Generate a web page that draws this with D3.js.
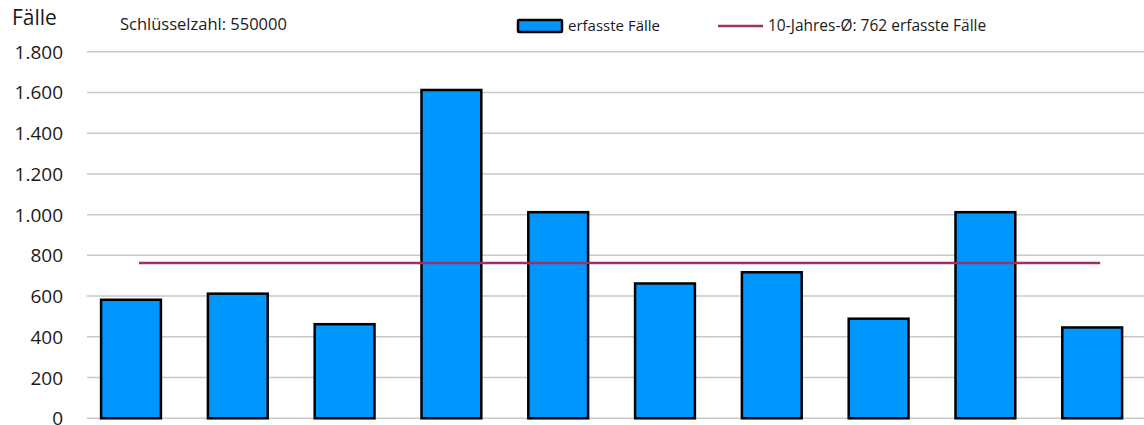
<!DOCTYPE html>
<html><head><meta charset="utf-8">
<script src="https://cdn.jsdelivr.net/npm/d3@7"></script>
<style>body{margin:0;background:#fff}svg{display:block;font-family:"Open Sans",sans-serif}</style>
</head><body>
<svg id="c" width="1144" height="425"></svg>
<script>
const categories = ["1","2","3","4","5","6","7","8","9","10"];
const values = [582, 612, 462, 1612, 1012, 662, 717, 489, 1012, 446];
const average = 762;
const yTicks = [0,200,400,600,800,1000,1200,1400,1600,1800];
const seriesName = "erfasste Fälle";
const averageLabel = "10-Jahres-Ø: 762 erfasste Fälle";

const svg = d3.select("#c");
const x = d3.scaleBand().domain(categories).range([77.6, 1145.6]).paddingInner(0.44).paddingOuter(0.22);
const y = d3.scaleLinear().domain([0,1800]).range([418.3, 51.7]);
const fmt = d3.formatLocale({decimal:",", thousands:".", grouping:[3], currency:["","€"]}).format(",d");

// gridlines
svg.append("g").selectAll("line").data(yTicks).join("line")
  .attr("x1",87).attr("x2",1144).attr("y1",d=>y(d)).attr("y2",d=>y(d))
  .attr("stroke","#c9c9c9").attr("stroke-width",1.5);

// y labels
const yAxis = d3.axisLeft(y).tickValues(yTicks).tickFormat(fmt).tickSize(0).tickPadding(0);
const ga = svg.append("g").attr("transform","translate(63,0)").call(yAxis);
ga.select(".domain").remove();
ga.selectAll("text").attr("font-size",19).attr("fill","#1a1a1a").attr("font-family","'Open Sans',sans-serif").attr("dy","0.34em");

// bars
svg.append("g").selectAll("rect").data(values).join("rect")
  .attr("x",(d,i)=>x(categories[i])).attr("width",x.bandwidth())
  .attr("y",d=>y(d)).attr("height",d=>y(0)-y(d))
  .attr("fill","#0096ff").attr("stroke","#000").attr("stroke-width",2.5);

// average line
const off = 8;
svg.append("line")
  .attr("x1",x(categories[0])+x.bandwidth()/2+off)
  .attr("x2",x(categories[categories.length-1])+x.bandwidth()/2+off)
  .attr("y1",y(average)).attr("y2",y(average))
  .attr("stroke","#993366").attr("stroke-width",2.5);

// titles
svg.append("text").attr("x",12).attr("y",25).attr("font-size",21).attr("fill","#1a1a1a").text("Fälle");
svg.append("text").attr("x",120).attr("y",30).attr("font-size",16.5).attr("fill","#1a1a1a").text("Schlüsselzahl: 550000");

// legend
svg.append("rect").attr("x",518).attr("y",20).attr("width",44).attr("height",12)
  .attr("fill","#0096ff").attr("stroke","#000").attr("stroke-width",2.5).attr("rx",1);
svg.append("text").attr("x",568).attr("y",31).attr("font-size",15).attr("fill","#1a1a1a").text(seriesName);
svg.append("line").attr("x1",718).attr("x2",763).attr("y1",26).attr("y2",26)
  .attr("stroke","#993366").attr("stroke-width",2.5);
svg.append("text").attr("x",768).attr("y",31).attr("font-size",15.5).attr("fill","#1a1a1a").text(averageLabel);
</script>
</body></html>
